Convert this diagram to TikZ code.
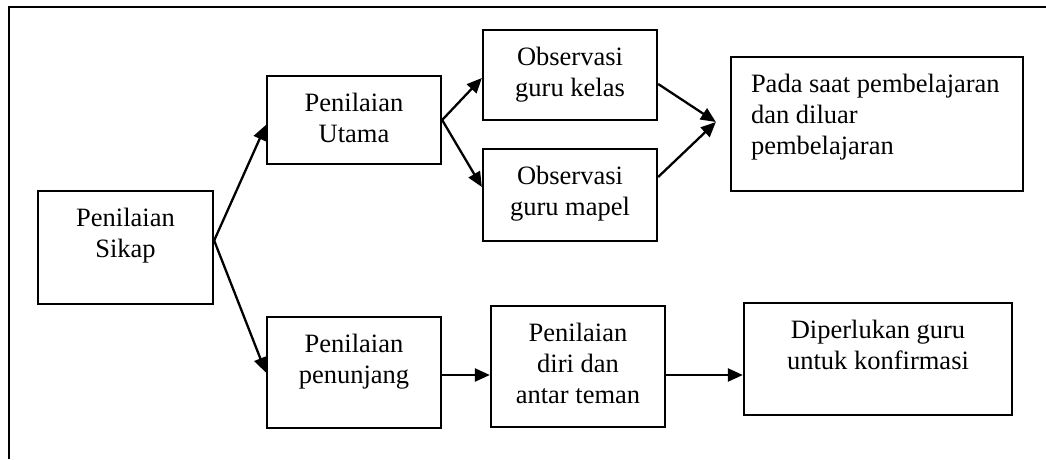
\documentclass[tikz,border=0pt]{standalone}
\usepackage{fontspec}
\setmainfont{Liberation Serif}
\usetikzlibrary{arrows.meta}
\usetikzlibrary{positioning}
\newcommand{\boxtxt}[3]{\parbox[c][#2pt][t]{#1pt}{\centering\rule{0pt}{35.5pt}#3}}
\newcommand{\boxtxtl}[3]{\parbox[c][#2pt][t]{#1pt}{\raggedright\leftskip=20pt\rule{0pt}{35.5pt}#3}}
\tikzset{->/.style = {-{Triangle[length=15pt,width=13pt]}, line width=2.3pt}}
\tikzset{box/.style = {draw, line width=2.3pt, inner sep=0pt,
                       font=\fontsize{26.5}{31}\selectfont}}

\begin{document}
\begin{tikzpicture}[x=1pt,y=-1pt]
			\useasboundingbox (0,0) rectangle (1046,459);
			\draw [line width=2.3pt] (9,459) -- (9,7) -- (1046,7);
			\node [box] (sikap) at (125.5, 247.5) {\boxtxt{175}{113}{Penilaian\\Sikap}};
			\node [box] (utama) at (354, 120) {\boxtxt{174}{88}{Penilaian\\Utama}};
			\node [box] (kelas) at (570, 75) {\boxtxt{174}{90}{Observasi\\guru kelas}};
			\node [box] (mapel) at (570, 195) {\boxtxt{174}{92}{Observasi\\guru mapel}};
			\node [box] (pada) at (877, 124) {\boxtxtl{292}{134}{Pada saat pembelajaran\\dan diluar\\pembelajaran}};
			\node [box] (penunjang) at (354, 372.5) {\boxtxt{174}{111}{Penilaian\\penunjang}};
			\node [box] (diri) at (578, 366.5) {\boxtxt{174}{121}{Penilaian\\diri dan\\antar teman}};
			\node [box] (konf) at (878, 359) {\boxtxt{268}{112}{Diperlukan guru\\untuk konfirmasi}};
			\coordinate (split) at ([yshift=7pt]sikap.east);
			\coordinate (meet) at ([xshift=-14pt,yshift=2pt]pada.west);
			\coordinate (low) at ([yshift=-2.5pt]penunjang.east);
			\draw [->] (split) to ([yshift=-5pt]utama.west);
			\draw [->] (split) to (penunjang.west);
			\draw [->] (utama.east) to ([yshift=-3pt]kelas.west);
			\draw [->] (utama.east) to ([yshift=8pt]mapel.west);
			\draw [->] ([yshift=-9pt]kelas.east) to (meet);
			\draw [->] ([yshift=18pt]mapel.east) to (meet);
			\draw [->] (low) to (low -| diri.west);
			\draw [->] (low -| diri.east) to (low -| konf.west);
		\end{tikzpicture}
\end{document}
